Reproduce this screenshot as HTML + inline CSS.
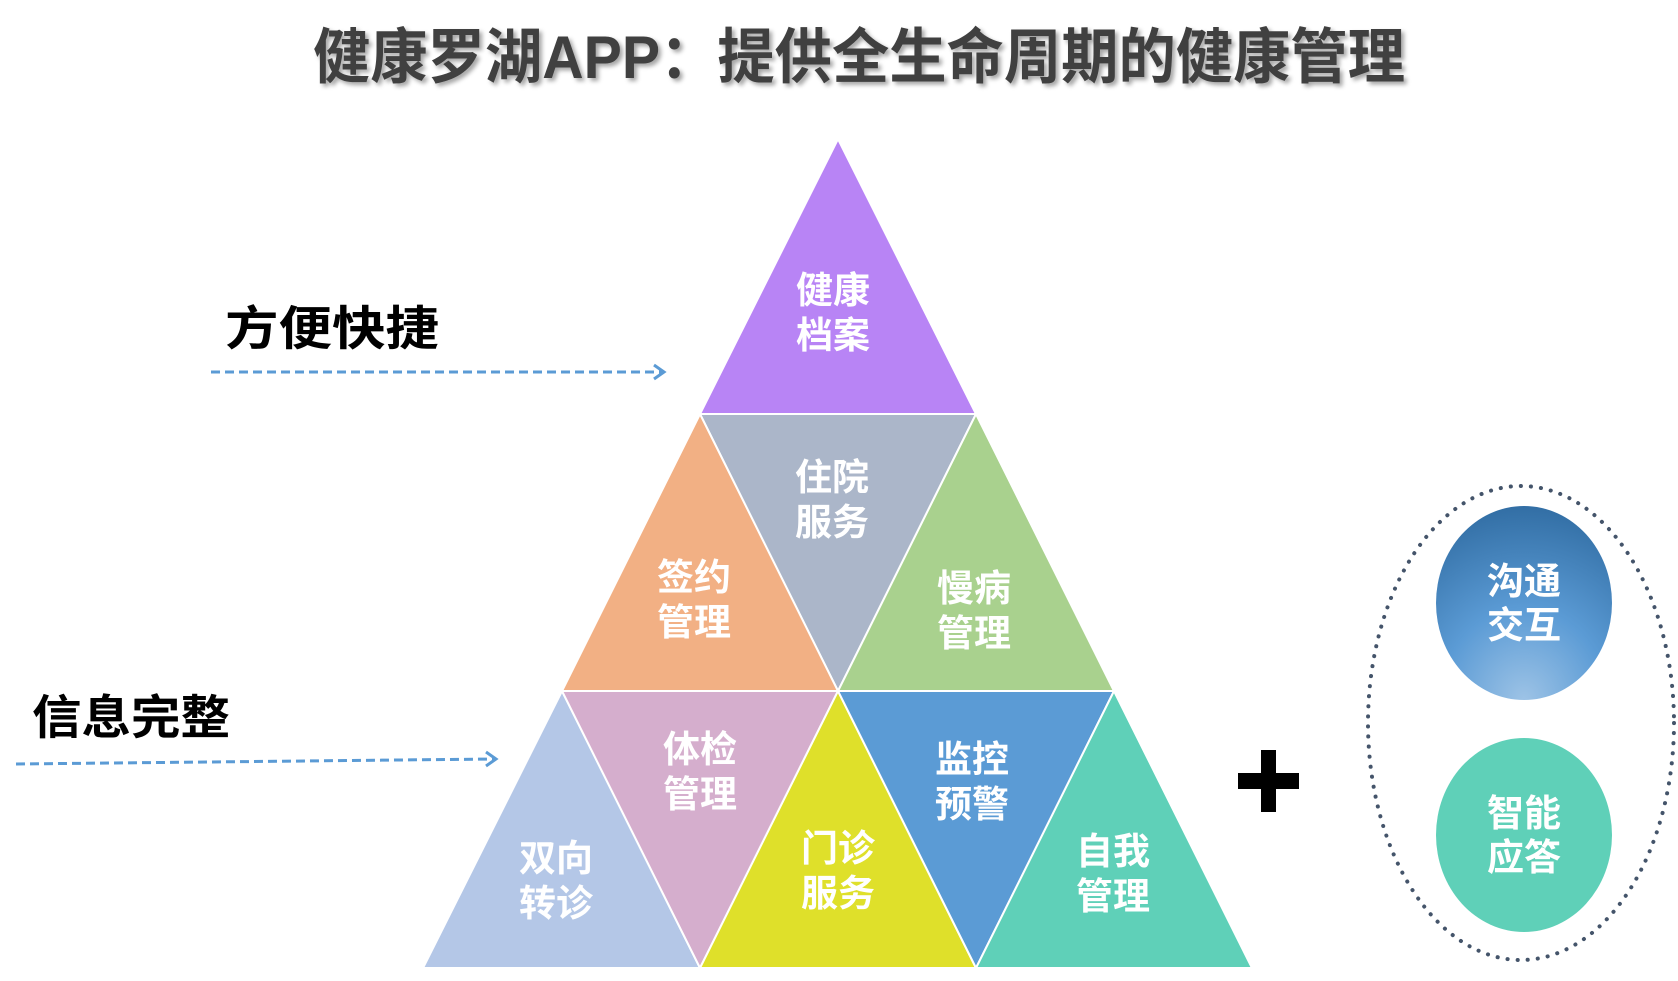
<!DOCTYPE html>
<html><head><meta charset="utf-8"><style>
html,body{margin:0;padding:0;background:#fff;width:1678px;height:981px;overflow:hidden}
svg{display:block}
text{font-family:"Liberation Sans","Noto Sans CJK SC","WenQuanYi Zen Hei",sans-serif;font-weight:bold}
</style></head><body>
<svg width="1678" height="981" viewBox="0 0 1678 981" xmlns="http://www.w3.org/2000/svg">
<defs>
<filter id="sh" x="-5%" y="-20%" width="110%" height="150%"><feDropShadow dx="3" dy="3" stdDeviation="2" flood-color="#000" flood-opacity="0.35"/></filter>
<radialGradient id="bg" cx="0.5" cy="1" r="1.05">
<stop offset="0" stop-color="#9dc3e6"/><stop offset="0.45" stop-color="#5b9bd5"/><stop offset="1" stop-color="#2e6aa0"/></radialGradient>
</defs>
<text x="313" y="78" font-size="60" fill="#404040" textLength="1092" lengthAdjust="spacingAndGlyphs" filter="url(#sh)">健康罗湖APP：提供全生命周期的健康管理</text>

<g stroke="#fff" stroke-width="2">
<polygon points="838,139 976,414 700,414" fill="#b884f5"/>
<polygon points="700,414 976,414 838,691" fill="#abb6c9"/>
<polygon points="700,414 838,691 562,691" fill="#f2b084"/>
<polygon points="976,414 1114,691 838,691" fill="#a9d18e"/>
<polygon points="562,691 700,968 423,968" fill="#b4c7e7"/>
<polygon points="562,691 838,691 700,968" fill="#d5aecd"/>
<polygon points="838,691 976,968 700,968" fill="#dfe02a"/>
<polygon points="838,691 1114,691 976,968" fill="#5b9bd5"/>
<polygon points="1114,691 1252,968 976,968" fill="#5fd0b8"/>
</g>
<g fill="#fff" font-size="37" text-anchor="middle">
<text x="833" y="303">健康</text><text x="833" y="348">档案</text>
<text x="832" y="490">住院</text><text x="832" y="535">服务</text>
<text x="694" y="590">签约</text><text x="694" y="635">管理</text>
<text x="974" y="601">慢病</text><text x="974" y="646">管理</text>
<text x="700" y="762">体检</text><text x="700" y="807">管理</text>
<text x="972" y="772">监控</text><text x="972" y="817">预警</text>
<text x="556" y="871">双向</text><text x="556" y="916">转诊</text>
<text x="838" y="861">门诊</text><text x="838" y="906">服务</text>
<text x="1113" y="864">自我</text><text x="1113" y="909">管理</text>
</g>

<text x="225" y="345" font-size="47" fill="#000" textLength="214" lengthAdjust="spacingAndGlyphs">方便快捷</text>
<line x1="211" y1="372" x2="662" y2="372" stroke="#5b9bd5" stroke-width="3" stroke-dasharray="9,5"/>
<polyline points="654,365 664,372 654,379" fill="none" stroke="#5b9bd5" stroke-width="3"/>
<text x="32" y="734" font-size="47" fill="#000" textLength="198" lengthAdjust="spacingAndGlyphs">信息完整</text>
<line x1="16" y1="764" x2="494" y2="759" stroke="#5b9bd5" stroke-width="3" stroke-dasharray="9,5"/>
<polyline points="486,752 496,759 486,766" fill="none" stroke="#5b9bd5" stroke-width="3"/>

<rect x="1261" y="750" width="15" height="62" fill="#000"/>
<rect x="1238" y="773" width="61" height="16" fill="#000"/>

<ellipse cx="1521" cy="723" rx="153" ry="237" fill="none" stroke="#44546a" stroke-width="4" stroke-linecap="round" stroke-dasharray="0.1,10"/>
<ellipse cx="1524" cy="603" rx="88" ry="97" fill="url(#bg)"/>
<ellipse cx="1524" cy="835" rx="88" ry="97" fill="#5fd0b8"/>
<g fill="#fff" font-size="37" text-anchor="middle">
<text x="1524" y="594">沟通</text><text x="1524" y="638">交互</text>
<text x="1524" y="826">智能</text><text x="1524" y="870">应答</text>
</g>
</svg>
</body></html>
